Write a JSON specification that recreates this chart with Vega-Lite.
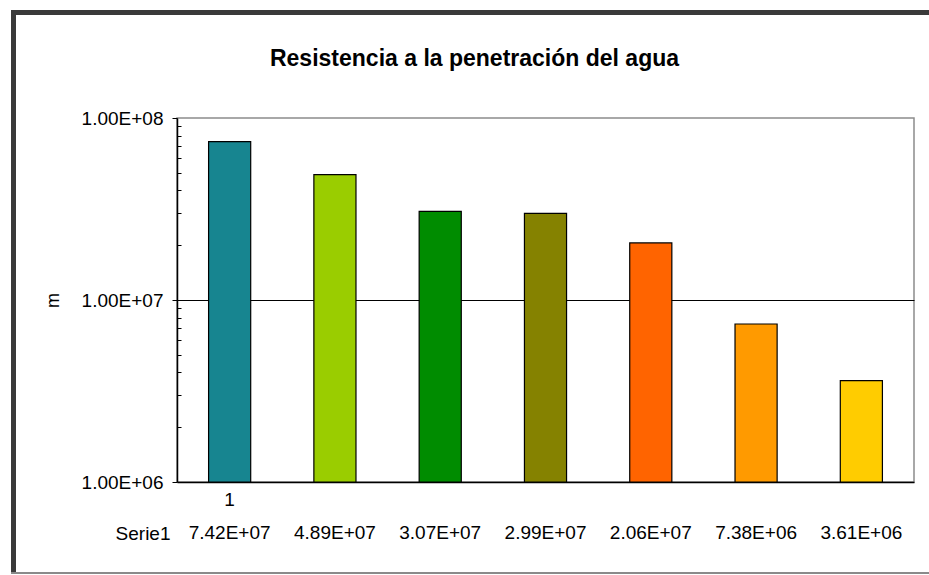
{
  "$schema": "https://vega.github.io/schema/vega-lite/v6.json",
  "padding": {"left": 11, "top": 10, "right": 0, "bottom": 0},
  "background": "white",
  "config": {
    "font": "Liberation Sans",
    "view": {"stroke": null},
    "concat": {"spacing": 0}
  },
  "datasets": {
    "resist": [
      {"cat": 1, "series": "Serie1", "value": 74200000},
      {"cat": 2, "series": "Serie1", "value": 48900000},
      {"cat": 3, "series": "Serie1", "value": 30700000},
      {"cat": 4, "series": "Serie1", "value": 29900000},
      {"cat": 5, "series": "Serie1", "value": 20600000},
      {"cat": 6, "series": "Serie1", "value": 7380000},
      {"cat": 7, "series": "Serie1", "value": 3610000}
    ]
  },
  "vconcat": [
    {
      "width": 918,
      "height": 5,
      "data": {"values": []},
      "mark": "rect",
      "encoding": {},
      "view": {"fill": "#3a3a3a", "stroke": null}
    },
    {
      "hconcat": [
        {
          "width": 5,
          "height": 557,
          "data": {"values": []},
          "mark": "rect",
          "encoding": {},
          "view": {"fill": "#3a3a3a", "stroke": null}
        },
        {
          "spacing": 10,
          "vconcat": [
            {
              "width": 737,
              "height": 22,
              "data": {"values": []},
              "mark": "rect",
              "encoding": {},
              "view": {"stroke": null}
            },
            {
              "width": 737,
              "height": 364,
              "data": {"name": "resist"},
              "title": {
                "text": "Resistencia a la penetración del agua",
                "fontSize": 23,
                "fontWeight": "bold",
                "color": "black",
                "anchor": "middle",
                "dx": -71,
                "offset": 38
              },
              "view": {"stroke": "#8c8c8c", "strokeWidth": 1.5},
              "mark": {"type": "bar", "stroke": "black", "strokeWidth": 1.2},
              "encoding": {
                "x": {
                  "field": "cat",
                  "type": "ordinal",
                  "scale": {"paddingInner": 0.6, "paddingOuter": 0.3},
                  "axis": {
                    "title": null,
                    "labelAngle": 0,
                    "labelExpr": "datum.value == 1 ? '1' : ''",
                    "ticks": false,
                    "domainColor": "black",
                    "domainWidth": 1.5,
                    "labelFontSize": 19,
                    "labelColor": "black",
                    "labelPadding": 8
                  }
                },
                "y": {
                  "field": "value",
                  "type": "quantitative",
                  "stack": null,
                  "scale": {"type": "log", "domain": [1000000, 100000000], "nice": false},
                  "axis": {
                    "title": "m",
                    "titleFontSize": 18,
                    "titleFontWeight": "normal",
                    "titleColor": "black",
                    "titlePadding": 8,
                    "values": [1000000, 2000000, 3000000, 4000000, 5000000, 6000000, 7000000, 8000000, 9000000, 10000000, 20000000, 30000000, 40000000, 50000000, 60000000, 70000000, 80000000, 90000000, 100000000],
                    "labelExpr": "indexof([1000000, 10000000, 100000000], datum.value) >= 0 ? replace(upper(format(datum.value, '.2e')), regexp('E[+]([0-9])$'), 'E+0$1') : ''",
                    "labelFontSize": 19,
                    "labelColor": "black",
                    "labelPadding": 9,
                    "tickColor": "black",
                    "tickSize": {"condition": {"test": "indexof([1000000, 10000000, 100000000], datum.value) >= 0", "value": 5}, "value": -4},
                    "domainColor": "black",
                    "domainWidth": 1.5,
                    "grid": true,
                    "gridColor": "black",
                    "gridWidth": 1.2,
                    "gridOpacity": {"condition": {"test": "datum.value == 10000000", "value": 1}, "value": 0},
                    "minExtent": 107,
                    "maxExtent": 107
                  }
                },
                "color": {
                  "field": "cat",
                  "type": "nominal",
                  "legend": null,
                  "scale": {"range": ["#178590", "#9acd00", "#008c00", "#858200", "#ff6400", "#ff9a00", "#ffcc00"]}
                }
              }
            },
            {
              "width": 737,
              "height": 26,
              "data": {"name": "resist"},
              "transform": [
                {"calculate": "replace(upper(format(datum.value, '.2e')), regexp('E[+]([0-9])$'), 'E+0$1')", "as": "label"}
              ],
              "mark": {"type": "text", "fontSize": 19, "color": "black", "baseline": "middle"},
              "encoding": {
                "x": {
                  "field": "cat",
                  "type": "ordinal",
                  "scale": {"paddingInner": 0.6, "paddingOuter": 0.3},
                  "axis": null
                },
                "y": {
                  "field": "series",
                  "type": "nominal",
                  "axis": {
                    "title": null,
                    "domain": false,
                    "ticks": false,
                    "grid": false,
                    "labelFontSize": 19,
                    "labelColor": "black",
                    "labelPadding": 7,
                    "minExtent": 161,
                    "maxExtent": 161
                  }
                },
                "text": {"field": "label"}
              }
            }
          ]
        }
      ]
    },
    {
      "width": 918,
      "height": 2,
      "data": {"values": []},
      "mark": "rect",
      "encoding": {},
      "view": {"fill": "#8a8a8a", "stroke": null}
    }
  ]
}
